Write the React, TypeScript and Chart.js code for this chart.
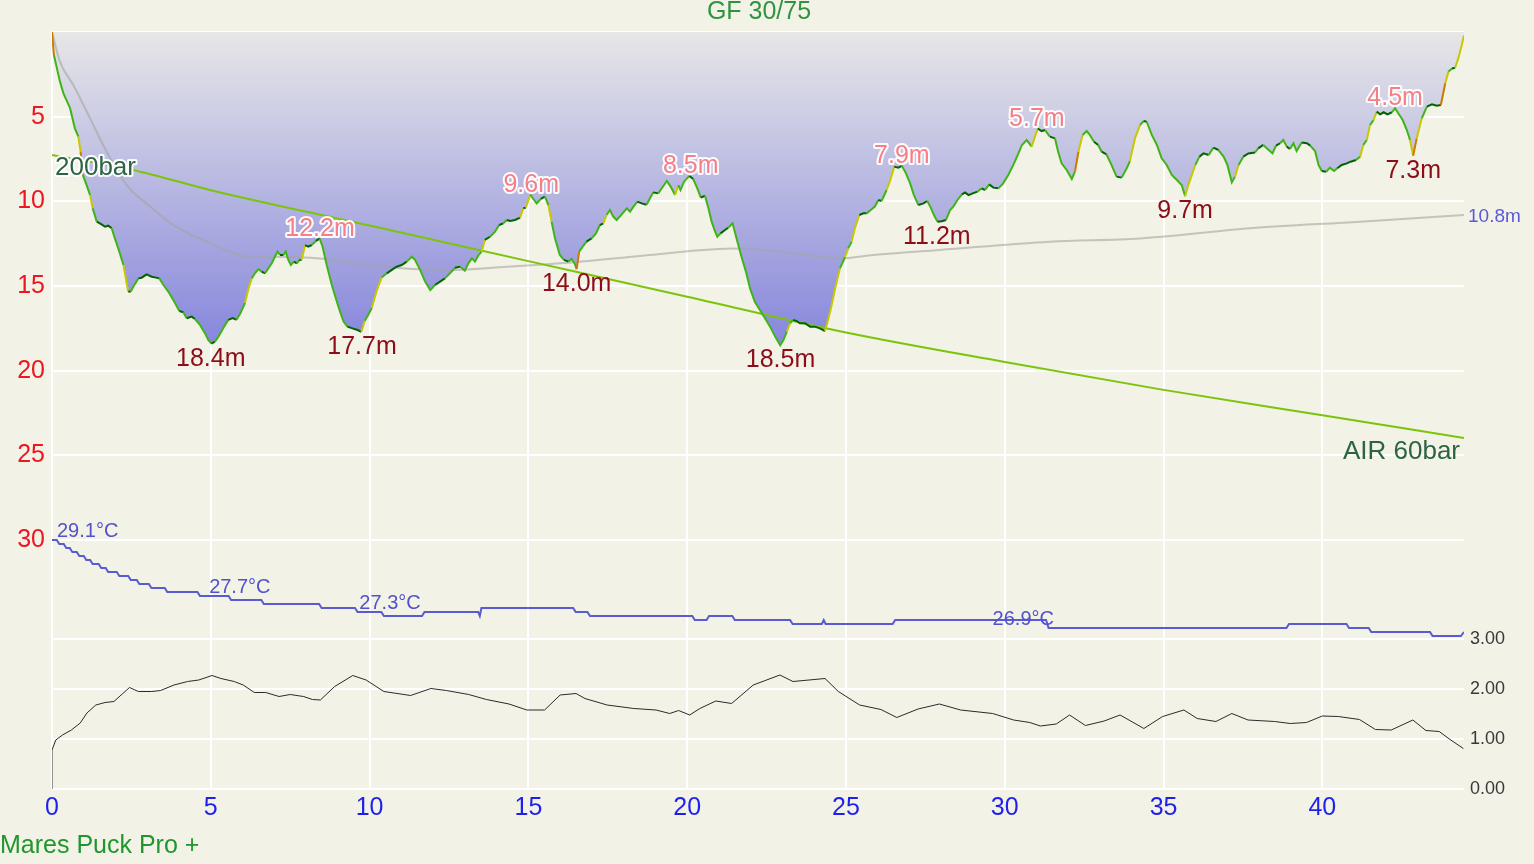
import React, { useEffect, useRef } from 'react';
import { Chart, registerables } from 'chart.js';

Chart.register(...registerables);

const FONT = '"Liberation Sans", Arial, sans-serif';

// [minutes, metres]
const depthProfile: [number, number][] = [
  [0, 0], [0.06, 1.36], [0.25, 2.93], [0.36, 3.62], [0.57, 4.5], [0.72, 5.69], [0.83, 6.18], [0.9, 7.07],
  [0.97, 8.44], [1.09, 9.04], [1.2, 9.63], [1.28, 10.41], [1.41, 11.2], [1.56, 11.36], [1.67, 11.5], [1.77, 11.44],
  [1.88, 11.59], [1.98, 12.19], [2.12, 12.97], [2.25, 13.76], [2.4, 15.33], [2.48, 15.33], [2.56, 15.04], [2.72, 14.55],
  [2.82, 14.51], [2.98, 14.31], [3.14, 14.45], [3.24, 14.49], [3.38, 14.55], [3.51, 14.94], [3.66, 15.33], [3.82, 15.83],
  [4.01, 16.48], [4.14, 16.56], [4.24, 16.9], [4.4, 16.81], [4.5, 16.95], [4.66, 17.3], [4.82, 17.8], [4.92, 18.19],
  [5.02, 18.4], [5.13, 18.29], [5.24, 17.99], [5.39, 17.5], [5.55, 17.0], [5.69, 16.9], [5.81, 17.0], [5.92, 16.65],
  [6.08, 16.0], [6.18, 15.2], [6.29, 14.55], [6.39, 14.25], [6.5, 14.0], [6.6, 14.15], [6.71, 14.25], [6.81, 13.96],
  [6.92, 13.66], [7.02, 13.27], [7.1, 12.97], [7.18, 13.17], [7.29, 13.17], [7.36, 12.97], [7.44, 13.46], [7.52, 13.76],
  [7.62, 13.56], [7.71, 13.66], [7.79, 13.46], [7.86, 13.46], [7.97, 12.58], [8.07, 12.68], [8.18, 12.58], [8.31, 12.34],
  [8.43, 12.2], [8.52, 12.68], [8.65, 13.76], [8.81, 14.94], [8.97, 15.93], [9.07, 16.52], [9.18, 17.1], [9.3, 17.4],
  [9.46, 17.5], [9.62, 17.6], [9.74, 17.7], [9.85, 17.05], [9.96, 16.7], [10.07, 16.3], [10.22, 15.3], [10.38, 14.5],
  [10.54, 14.25], [10.7, 14.05], [10.85, 13.86], [11.01, 13.76], [11.17, 13.56], [11.33, 13.27], [11.43, 13.46], [11.59, 14.05],
  [11.75, 14.74], [11.91, 15.24], [12.06, 14.94], [12.22, 14.74], [12.37, 14.55], [12.53, 14.25], [12.69, 13.92], [12.85, 13.86],
  [13.0, 14.1], [13.11, 13.66], [13.22, 13.37], [13.32, 13.56], [13.43, 13.17], [13.53, 12.97], [13.63, 12.28], [13.79, 12.09],
  [13.95, 11.79], [14.08, 11.4], [14.21, 11.3], [14.32, 11.1], [14.42, 11.16], [14.58, 11.1], [14.74, 10.96], [14.84, 10.41],
  [14.92, 10.37], [15.06, 9.6], [15.14, 9.82], [15.26, 10.12], [15.39, 9.86], [15.52, 9.72], [15.63, 10.22], [15.73, 11.2],
  [15.84, 12.19], [15.99, 13.17], [16.12, 13.46], [16.26, 13.56], [16.36, 13.4], [16.47, 13.72], [16.52, 14.0], [16.6, 12.97],
  [16.71, 12.68], [16.83, 12.38], [16.99, 12.19], [17.13, 11.89], [17.25, 11.4], [17.36, 11.3], [17.46, 10.81], [17.57, 10.51],
  [17.67, 10.9], [17.78, 11.1], [17.94, 10.77], [18.1, 10.41], [18.2, 10.61], [18.31, 10.31], [18.43, 10.02], [18.57, 10.12],
  [18.72, 10.2], [18.83, 9.82], [18.93, 9.47], [19.09, 9.53], [19.2, 9.23], [19.36, 8.8], [19.48, 9.13], [19.62, 9.63],
  [19.72, 9.04], [19.79, 9.33], [19.9, 8.84], [20.07, 8.5], [20.19, 8.68], [20.32, 9.23], [20.43, 9.78], [20.56, 9.67],
  [20.67, 10.41], [20.77, 11.2], [20.88, 11.79], [20.95, 12.09], [21.05, 11.89], [21.19, 11.69], [21.29, 11.56], [21.43, 11.3],
  [21.5, 11.79], [21.61, 12.58], [21.71, 13.27], [21.85, 14.15], [21.98, 15.14], [22.13, 15.93], [22.29, 16.42], [22.45, 16.91],
  [22.61, 17.4], [22.77, 17.99], [22.93, 18.5], [23.03, 18.19], [23.14, 17.7], [23.24, 17.2], [23.34, 17.0], [23.45, 17.07],
  [23.55, 17.2], [23.71, 17.2], [23.87, 17.4], [24.02, 17.4], [24.18, 17.5], [24.34, 17.66], [24.45, 16.9], [24.55, 16.12],
  [24.66, 15.14], [24.81, 13.96], [24.97, 13.3], [25.07, 12.78], [25.18, 12.38], [25.28, 11.59], [25.42, 10.81], [25.55, 10.71],
  [25.65, 10.71], [25.78, 10.51], [25.91, 10.31], [26.02, 9.92], [26.12, 9.98], [26.28, 9.33], [26.38, 8.84], [26.52, 7.95],
  [26.65, 8.01], [26.76, 7.9], [26.89, 8.35], [27.02, 8.94], [27.14, 9.63], [27.28, 10.22], [27.44, 10.12], [27.56, 9.98],
  [27.67, 10.37], [27.77, 10.81], [27.88, 11.2], [28.01, 11.18], [28.15, 11.1], [28.28, 10.51], [28.38, 10.31], [28.51, 9.92],
  [28.65, 9.59], [28.75, 9.47], [28.86, 9.63], [28.99, 9.53], [29.14, 9.43], [29.27, 9.23], [29.38, 9.33], [29.51, 9.0],
  [29.64, 9.19], [29.8, 9.23], [29.95, 8.94], [30.11, 8.44], [30.27, 7.85], [30.43, 7.17], [30.54, 6.67], [30.69, 6.38],
  [30.85, 6.77], [30.95, 6.18], [31.04, 5.7], [31.16, 5.85], [31.27, 5.79], [31.42, 6.18], [31.58, 6.28], [31.68, 7.07],
  [31.79, 7.76], [31.95, 8.15], [32.11, 8.68], [32.21, 8.25], [32.32, 7.07], [32.45, 6.08], [32.58, 5.85], [32.68, 6.08],
  [32.81, 6.48], [32.94, 6.67], [33.05, 7.07], [33.2, 7.22], [33.36, 7.85], [33.52, 8.54], [33.68, 8.6], [33.84, 8.05],
  [33.94, 7.62], [34.1, 6.28], [34.26, 5.49], [34.37, 5.26], [34.47, 5.3], [34.63, 6.08], [34.79, 6.67], [34.94, 7.46],
  [35.1, 7.85], [35.26, 8.44], [35.42, 8.74], [35.57, 9.04], [35.68, 9.7], [35.78, 9.04], [35.89, 8.44], [36.0, 7.85],
  [36.13, 7.36], [36.26, 7.17], [36.42, 7.26], [36.57, 6.83], [36.73, 6.97], [36.89, 7.36], [37.01, 7.85], [37.15, 8.88],
  [37.25, 8.54], [37.36, 7.85], [37.51, 7.36], [37.67, 7.17], [37.88, 7.11], [37.98, 6.87], [38.14, 6.67], [38.25, 6.87],
  [38.43, 7.17], [38.54, 6.71], [38.67, 6.57], [38.77, 6.38], [38.88, 6.77], [38.98, 6.91], [39.09, 6.57], [39.19, 7.03],
  [39.35, 6.52], [39.51, 6.57], [39.62, 6.71], [39.77, 7.03], [39.88, 7.85], [39.98, 8.21], [40.12, 8.25], [40.24, 8.01],
  [40.37, 8.21], [40.47, 8.05], [40.61, 7.85], [40.77, 7.76], [40.89, 7.66], [41.06, 7.56], [41.19, 7.36], [41.29, 6.67],
  [41.4, 6.38], [41.5, 5.49], [41.61, 5.2], [41.71, 4.7], [41.82, 4.86], [41.93, 4.74], [42.05, 4.86], [42.19, 4.74],
  [42.29, 4.5], [42.39, 4.8], [42.53, 5.2], [42.66, 5.79], [42.76, 6.38], [42.86, 7.3], [42.97, 6.28], [43.13, 5.1],
  [43.29, 4.41], [43.45, 4.27], [43.6, 4.35], [43.73, 4.31], [43.87, 3.03], [43.97, 2.34], [44.08, 2.15], [44.18, 2.11],
  [44.28, 1.56], [44.39, 0.77], [44.46, 0.2],
];

// running mean depth [minutes, metres]
const meanDepth: [number, number][] = [
  [0, 0], [0.25, 1.75], [0.67, 3.13], [1.2, 5.1], [1.72, 7.07], [2.35, 9.04], [3.09, 10.3], [3.82, 11.4],
  [4.87, 12.38], [5.6, 12.97], [6.23, 13.27], [6.97, 13.27], [8.44, 13.37], [10.33, 13.86], [12.53, 14.05], [14.32, 13.86],
  [16.42, 13.6], [18.83, 13.17], [20.09, 12.93], [21.46, 12.78], [22.72, 12.93], [23.76, 13.17], [24.81, 13.37], [25.86, 13.17],
  [27.96, 12.87], [31.42, 12.38], [34.26, 12.19], [37.72, 11.59], [41.19, 11.2], [44.46, 10.8],
];

// cylinder pressure [minutes, bar]
const cylinderPressure: [number, number][] = [
  [0, 200], [2.55, 192.6], [5, 182.6], [10, 165.1], [15, 147.5], [20, 129.9], [25, 112.2], [30, 97.6], [35, 83.8], [40, 71.2], [44.46, 60],
];

// water temperature [minutes, °C]
const temperature: [number, number][] = [
  [0, 29.1], [0.15, 29.1], [0.23, 29.0], [0.37, 29.0], [0.45, 28.9], [0.56, 28.9], [0.64, 28.8], [0.78, 28.8],
  [0.86, 28.7], [1.0, 28.7], [1.08, 28.6], [1.2, 28.6], [1.28, 28.5], [1.47, 28.5], [1.55, 28.4], [1.69, 28.4],
  [1.77, 28.3], [2.04, 28.3], [2.12, 28.2], [2.4, 28.2], [2.48, 28.1], [2.67, 28.1], [2.75, 28.0], [3.05, 28.0],
  [3.13, 27.9], [3.55, 27.9], [3.63, 27.8], [4.58, 27.8], [4.66, 27.7], [5.56, 27.7], [5.64, 27.6], [6.59, 27.6],
  [6.67, 27.5], [8.41, 27.5], [8.49, 27.4], [9.54, 27.4], [9.62, 27.3], [10.37, 27.3], [10.45, 27.2], [11.65, 27.2],
  [11.73, 27.3], [13.42, 27.3], [13.47, 27.2], [13.52, 27.4], [16.41, 27.4], [16.49, 27.3], [16.86, 27.3], [16.94, 27.2],
  [20.16, 27.2], [20.24, 27.1], [20.61, 27.1], [20.69, 27.2], [21.42, 27.2], [21.5, 27.1], [23.24, 27.1], [23.32, 27.0],
  [24.24, 27.0], [24.3, 27.1], [24.36, 27.0], [26.47, 27.0], [26.55, 27.1], [31.3, 27.1], [31.38, 26.9], [38.87, 26.9],
  [38.95, 27.0], [40.76, 27.0], [40.84, 26.9], [41.46, 26.9], [41.54, 26.8], [43.39, 26.8], [43.47, 26.7], [44.36, 26.7],
  [44.46, 26.8],
];

// partial pressure of N2 [minutes, bar]
const ppN2: [number, number][] = [
  [0, 0], [0, 0.78], [0.12, 0.98], [0.33, 1.08], [0.61, 1.18], [0.89, 1.32], [1.1, 1.52], [1.38, 1.68], [1.67, 1.73], [1.95, 1.75],
  [2.23, 1.91], [2.44, 2.03], [2.72, 1.95], [3.14, 1.95], [3.42, 1.97], [3.84, 2.08], [4.27, 2.15], [4.62, 2.18], [5.04, 2.27], [5.32, 2.21],
  [5.74, 2.15], [6.02, 2.08], [6.37, 1.93], [6.73, 1.93], [7.15, 1.85], [7.5, 1.89], [7.92, 1.85], [8.2, 1.79], [8.45, 1.78], [8.9, 2.05],
  [9.47, 2.27], [9.89, 2.18], [10.45, 1.95], [11.29, 1.87], [11.93, 2.01], [12.42, 1.97], [13.12, 1.89], [13.68, 1.79], [14.39, 1.7], [14.95, 1.58],
  [15.51, 1.58], [16.0, 1.88], [16.5, 1.91], [16.78, 1.81], [17.48, 1.68], [18.32, 1.61], [19.02, 1.58], [19.45, 1.51], [19.73, 1.57], [20.08, 1.48],
  [20.4, 1.61], [20.9, 1.76], [21.4, 1.71], [22.08, 2.08], [22.92, 2.28], [23.33, 2.15], [24.34, 2.21], [24.76, 1.95], [25.43, 1.68], [26.1, 1.59],
  [26.6, 1.43], [27.27, 1.6], [27.94, 1.7], [28.61, 1.58], [29.62, 1.51], [30.28, 1.38], [30.79, 1.33], [31.12, 1.26], [31.62, 1.3], [32.04, 1.48],
  [32.54, 1.27], [33.13, 1.36], [33.63, 1.48], [34.38, 1.21], [34.97, 1.45], [35.64, 1.58], [36.06, 1.41], [36.65, 1.35], [37.15, 1.51], [37.66, 1.38],
  [38.5, 1.35], [38.99, 1.31], [39.5, 1.33], [40.0, 1.46], [40.5, 1.45], [41.17, 1.39], [41.67, 1.19], [42.17, 1.18], [42.85, 1.38], [43.26, 1.17],
  [43.68, 1.15], [44.02, 0.99], [44.44, 0.81],
];

// labelled depth extremes [minutes, metres, kind]
const depthExtremes: [number, number, 'deep' | 'shallow'][] = [
  [5.0, 18.4, 'deep'], [8.44, 12.2, 'shallow'], [9.76, 17.7, 'deep'], [15.09, 9.6, 'shallow'], [16.52, 14.0, 'deep'],
  [20.11, 8.5, 'shallow'], [22.94, 18.5, 'deep'], [26.76, 7.9, 'shallow'], [27.86, 11.2, 'deep'], [31.01, 5.7, 'shallow'],
  [35.68, 9.7, 'deep'], [42.29, 4.5, 'shallow'], [42.86, 7.3, 'deep'],
];

// labelled temperatures [minutes, °C]
const temperatureLabels: [number, number][] = [
  [0, 29.1], [4.79, 27.7], [9.52, 27.3], [29.46, 26.9],
];

const titleText = 'GF 30/75';
const computerName = 'Mares Puck Pro +';
const gasName = 'AIR';
const diveEnd = 44.46;

const C_BG = '#f2f2e6';
const C_STABLE = '#006400';
const C_SLOW = '#3fb418';
const C_MODERATE = '#c8c800';
const C_FAST = '#cc7a00';
const C_CRAZY = '#e00000';

function velocityColor(t0: number, d0: number, t1: number, d1: number) {
  const dt = Math.max((t1 - t0) * 60, 0.5);
  const speed = ((d1 - d0) * 1000) / dt; // mm/s, positive = descending
  if (speed < -304) return C_CRAZY;
  if (speed < -152) return C_FAST;
  if (speed < -76) return C_MODERATE;
  if (speed < -25) return C_SLOW;
  if (speed < 25) return C_STABLE;
  if (speed < 152) return C_SLOW;
  if (speed < 304) return C_MODERATE;
  if (speed < 507) return C_FAST;
  return C_CRAZY;
}

const toXY = (arr: [number, number][]) => arr.map(([x, y]) => ({ x, y }));

const diveLabels = {
  id: 'diveLabels',
  afterDatasetsDraw(chart: any) {
    const { ctx, scales, chartArea } = chart;
    const xs = scales.x;
    const yd = scales.yDepth;
    const yt = scales.yTemp;
    const yp = scales.yPressure;
    ctx.save();
    ctx.textBaseline = 'alphabetic';
    ctx.lineJoin = 'round';

    // depth extremes
    ctx.font = `25px ${FONT}`;
    ctx.textAlign = 'center';
    depthExtremes.forEach(([t, d, kind]) => {
      const x = xs.getPixelForValue(t);
      const y = yd.getPixelForValue(d);
      const txt = d.toFixed(1) + 'm';
      if (kind === 'deep') {
        ctx.fillStyle = '#8c0d18';
        ctx.fillText(txt, x, y + 22);
      } else {
        ctx.strokeStyle = 'rgba(255,255,255,0.95)';
        ctx.lineWidth = 4;
        ctx.strokeText(txt, x, y - 3);
        ctx.fillStyle = '#f47f86';
        ctx.fillText(txt, x, y - 3);
      }
    });

    // temperatures
    ctx.font = `20px ${FONT}`;
    ctx.textAlign = 'left';
    ctx.fillStyle = '#5252cc';
    temperatureLabels.forEach(([t, c]) => {
      const x = xs.getPixelForValue(t);
      const y = yt.getPixelForValue(c);
      ctx.fillText(c.toFixed(1) + '°C', x + 5, y - 3);
    });

    // pressures
    ctx.font = `26px ${FONT}`;
    const p0 = cylinderPressure[0];
    const p1 = cylinderPressure[cylinderPressure.length - 1];
    const sx = xs.getPixelForValue(p0[0]);
    const sy = yp.getPixelForValue(p0[1]);
    ctx.strokeStyle = 'rgba(255,255,255,0.95)';
    ctx.lineWidth = 4;
    ctx.strokeText(`${p0[1]}bar`, sx + 3, sy + 20);
    ctx.fillStyle = '#2c6444';
    ctx.fillText(`${p0[1]}bar`, sx + 3, sy + 20);
    const ex = xs.getPixelForValue(p1[0]);
    const ey = yp.getPixelForValue(p1[1]);
    ctx.textAlign = 'right';
    ctx.fillText(`${gasName} ${p1[1]}bar`, ex - 4, ey + 21);

    // mean depth at end
    const m = meanDepth[meanDepth.length - 1];
    ctx.font = `19px ${FONT}`;
    ctx.textAlign = 'left';
    ctx.fillStyle = '#5a5ad8';
    ctx.fillText(m[1].toFixed(1) + 'm', chartArea.right + 4, yd.getPixelForValue(m[1]) + 7);

    // title and footer
    ctx.font = `25px ${FONT}`;
    ctx.textAlign = 'center';
    ctx.fillStyle = '#2f9440';
    ctx.fillText(titleText, (chartArea.left + chartArea.right) / 2 + 1, 19);
    ctx.textAlign = 'left';
    ctx.fillStyle = '#1f962e';
    ctx.fillText(computerName, 0, 853);
    ctx.restore();
  },
};

export default function App() {
  const ref = useRef<HTMLCanvasElement | null>(null);

  useEffect(() => {
    document.body.style.margin = '0';
    document.body.style.background = C_BG;
    const canvas = ref.current;
    if (!canvas) return;
    const maxDepth = Math.max(...depthProfile.map((p) => p[1]));

    const chart = new Chart(canvas, {
      type: 'line',
      data: {
        datasets: [
          {
            label: 'depth',
            data: toXY(depthProfile),
            yAxisID: 'yDepth',
            borderWidth: 2,
            pointRadius: 0,
            tension: 0,
            fill: false,
            segment: {
              borderColor: (s: any) => velocityColor(s.p0.parsed.x, s.p0.parsed.y, s.p1.parsed.x, s.p1.parsed.y),
            },
            order: 0,
          } as any,
          {
            label: 'pressure',
            data: toXY(cylinderPressure),
            yAxisID: 'yPressure',
            borderColor: '#7cc40c',
            borderWidth: 2,
            pointRadius: 0,
            cubicInterpolationMode: 'monotone',
            fill: false,
            order: 1,
          },
          {
            label: 'mean depth',
            data: toXY(meanDepth),
            yAxisID: 'yDepth',
            borderColor: 'rgba(165,165,160,0.6)',
            borderWidth: 2,
            pointRadius: 0,
            cubicInterpolationMode: 'monotone',
            fill: false,
            order: 2,
          },
          {
            label: 'temperature',
            data: toXY(temperature),
            yAxisID: 'yTemp',
            borderColor: '#5a5ad2',
            borderWidth: 2,
            pointRadius: 0,
            tension: 0,
            fill: false,
            order: 3,
          },
          {
            label: 'ppN2',
            data: toXY(ppN2),
            yAxisID: 'yN2',
            borderColor: '#2a2a2a',
            borderWidth: 1,
            pointRadius: 0,
            tension: 0,
            fill: false,
            order: 4,
          },
          {
            label: 'depth area',
            data: toXY(depthProfile),
            yAxisID: 'yDepth',
            borderWidth: 0,
            borderColor: 'rgba(0,0,0,0)',
            pointRadius: 0,
            tension: 0,
            fill: { value: 0 },
            backgroundColor: (c: any) => {
              const ch = c.chart;
              if (!ch.chartArea) return 'rgba(0,0,0,0)';
              const y0 = ch.scales.yDepth.getPixelForValue(0);
              const y1 = ch.scales.yDepth.getPixelForValue(maxDepth);
              const g = ch.ctx.createLinearGradient(0, y0, 0, y1);
              g.addColorStop(0, 'rgb(231,231,231)');
              g.addColorStop(1, 'rgb(134,134,221)');
              return g;
            },
            order: 5,
          } as any,
        ],
      },
      options: {
        responsive: false,
        animation: false,
        devicePixelRatio: 1,
        layout: { padding: { top: 32, left: 0, right: 0, bottom: 0 } },
        plugins: {
          legend: { display: false },
          tooltip: { enabled: false },
          title: { display: false },
          filler: { drawTime: 'beforeDatasetsDraw' },
        } as any,
        scales: {
          x: {
            type: 'linear',
            min: 0,
            max: diveEnd,
            border: { display: false },
            grid: {
              drawTicks: false,
              lineWidth: 2,
              color: (c: any) => (c.tick && c.tick.value <= 40 + 1e-6 && c.tick.value % 5 === 0 ? '#ffffff' : 'rgba(0,0,0,0)'),
            },
            ticks: {
              stepSize: 5,
              autoSkip: false,
              maxRotation: 0,
              padding: 4,
              color: '#1f1fee',
              font: { family: FONT, size: 25 },
              callback: (v: any) => (Number(v) % 5 === 0 && Number(v) <= 40 ? String(v) : ''),
            },
            afterFit: (s: any) => {
              s.height = 75;
            },
          },
          yDepth: {
            type: 'linear',
            position: 'left',
            reverse: true,
            min: 0,
            max: 44.705,
            border: { display: false },
            grid: {
              drawTicks: false,
              lineWidth: 2,
              color: (c: any) => (c.tick && c.tick.value <= 30 && c.tick.value % 5 === 0 ? '#ffffff' : 'rgba(0,0,0,0)'),
            },
            ticks: {
              stepSize: 5,
              autoSkip: false,
              maxTicksLimit: 100,
              padding: 7,
              color: '#ee1620',
              font: { family: FONT, size: 25 },
              callback: (v: any) => (Number(v) > 0 && Number(v) <= 30 && Number(v) % 5 === 0 ? String(v) : ''),
            },
            afterFit: (s: any) => {
              s.width = 52;
            },
          },
          yN2: {
            type: 'linear',
            position: 'right',
            min: 0,
            max: 15.14,
            border: { display: false },
            grid: {
              drawTicks: false,
              lineWidth: 2,
              color: (c: any) => (c.tick && c.tick.value <= 3 && Number.isInteger(c.tick.value) ? '#ffffff' : 'rgba(0,0,0,0)'),
            },
            ticks: {
              stepSize: 1,
              autoSkip: false,
              maxTicksLimit: 100,
              padding: 6,
              color: '#3a3a3a',
              font: { family: FONT, size: 18 },
              callback: (v: any) => (Number(v) <= 3 && Number.isInteger(Number(v)) ? Number(v).toFixed(2) : ''),
            },
            afterFit: (s: any) => {
              s.width = 70;
            },
          },
          yTemp: {
            type: 'linear',
            display: false,
            min: 22.875,
            max: 41.8,
          },
          yPressure: {
            type: 'linear',
            display: false,
            min: -113.65,
            max: 260.85,
          },
        },
      } as any,
      plugins: [diveLabels],
    });

    return () => chart.destroy();
  }, []);

  return (
    <div style={{ width: 1534, height: 864, background: C_BG, position: 'relative' }}>
      <canvas ref={ref} width={1534} height={864} style={{ display: 'block' }} />
    </div>
  );
}
